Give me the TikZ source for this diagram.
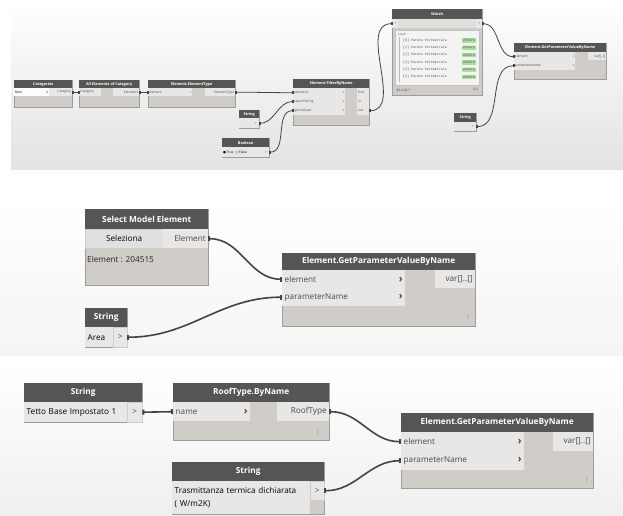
\documentclass[tikz,border=0pt]{standalone}
\usepackage{fontspec}
\setmainfont{Open Sans}
\newfontfamily\symfont{DejaVu Sans}
\newfontfamily\monofont{Liberation Mono}
\usetikzlibrary{arrows.meta}

\definecolor{hdrgray}{HTML}{555555}
\definecolor{rowgray}{HTML}{E8E7E5}
\definecolor{btngray}{HTML}{E0E0E0}
\definecolor{bodygray}{HTML}{D0CCC7}
\definecolor{edgegray}{HTML}{9C9C9C}
\definecolor{wiregray}{HTML}{444444}
\definecolor{txtgray}{HTML}{4A4A4A}
\definecolor{idgreen}{HTML}{A9DE9C}

\newcommand*{\hdrfont}{\fontsize{8.3}{10}\selectfont\bfseries}
\newcommand*{\rowfont}{\fontsize{8.2}{12.5}\selectfont}
\newcommand*{\thdrfont}{\fontsize{3.8}{4.4}\selectfont\bfseries}
\newcommand*{\trowfont}{\fontsize{3.3}{4}\selectfont}
\newcommand*{\chev}{{\fontsize{10.5}{10}\selectfont\bfseries ›}}

\begin{document}
\begin{tikzpicture}
[
	x=1pt, y=-1pt,
	box/.style={draw=edgegray, fill=bodygray, anchor=north west, inner sep=0pt, line width=0.5pt},
	hdr/.style={fill=hdrgray, text=white, anchor=north west, inner sep=0pt, font=\hdrfont},
	cell/.style={fill=rowgray, text=txtgray, anchor=north west, inner xsep=2.5pt, inner ysep=0pt, font=\rowfont},
	grip/.style={text=txtgray!60, inner sep=0pt, font=\fontsize{6}{6}\selectfont},
	wire/.style={draw=wiregray, line width=1.6pt, {Rectangle[length=2pt,width=5pt]}-{Rectangle[length=2pt,width=5pt]}},
	thdr/.style={hdr, font=\thdrfont},
	tcell/.style={cell, inner xsep=1pt, font=\trowfont},
	tgrip/.style={grip, font=\fontsize{3}{3}\selectfont},
	twire/.style={draw=wiregray, line width=0.8pt, {Rectangle[length=1pt,width=2.5pt]}-{Rectangle[length=1pt,width=2.5pt]}}
]

	\useasboundingbox (0,0) rectangle (623,516);

	% backgrounds
	\shade[top color=white, bottom color=black!11] (11,0) rectangle (623,169);
	\shade[top color=white, bottom color=black!4] (0,195) rectangle (623,355);
	\shade[top color=white, bottom color=black!6] (0,362) rectangle (623,516);

	%%%% top screenshot
	% Categories
	\node[box, minimum width=58pt, minimum height=27pt] (cat) at (14,80) {};
	\node[thdr, minimum width=58pt, minimum height=8pt] (cat-h) at (14,80) {Categories};
	\node[tcell, fill=white!90!rowgray, text=black, text width=33pt, minimum height=8pt, align=left] (cat-dd) at (14,88) {Muri\hfill v};
	\node[tcell, text width=21pt, minimum height=8pt, align=right] (cat-out) at (49,88) {Category};

	% All Elements of Category
	\node[box, minimum width=60pt, minimum height=27pt] (ae) at (79,80) {};
	\node[thdr, minimum width=60pt, minimum height=8pt] (ae-h) at (79,80) {All Elements of Category};
	\node[tcell, text width=20pt, minimum height=8pt, align=left] (ae-in) at (79,88) {Category};
	\node[tcell, text width=24pt, minimum height=8pt, align=right] (ae-out) at (113,88) {Elements};

	% Element.ElementType
	\node[box, minimum width=87pt, minimum height=27pt] (et) at (148,80) {};
	\node[thdr, minimum width=87pt, minimum height=8pt] (et-h) at (148,80) {Element.ElementType};
	\node[tcell, text width=42pt, minimum height=8pt, align=left] (et-in) at (148,88) {element\hfill\textbf{›}};
	\node[tcell, text width=28pt, minimum height=8pt, align=right] (et-out) at (205,88) {ElementType};
	\node[tgrip] (et-g) at (233,104) {I};

	% String (searchString)
	\node[box, minimum width=20pt, minimum height=18pt] (s1) at (239,110) {};
	\node[thdr, minimum width=20pt, minimum height=8pt] (s1-h) at (239,110) {String};
	\node[tcell, text width=11pt, minimum height=10pt] (s1-val) at (239,118) {};
	\node[tcell, text width=5pt, minimum height=10pt, align=center] (s1-out) at (252,118) {>};

	% Boolean
	\node[box, minimum width=47pt, minimum height=19pt] (bo) at (222,138) {};
	\node[thdr, minimum width=47pt, minimum height=9pt] (bo-h) at (222,138) {Boolean};
	\node[tcell, text=black, text width=38pt, minimum height=10pt, align=left] (bo-val) at (222,147) {{\symfont ●}\,True \ {\symfont ○}\,False};
	\node[tcell, text width=5pt, minimum height=10pt, align=center] (bo-out) at (262,147) {>};

	% Element.FilterByName
	\node[box, minimum width=76pt, minimum height=46pt] (fb) at (293,79) {};
	\node[thdr, minimum width=76pt, minimum height=9pt] (fb-h) at (293,79) {Element.FilterByName};
	\node[tcell, text width=50pt, minimum height=9pt, align=left] (fb-el) at (293,88) {elements\hfill\textbf{›}};
	\node[tcell, text width=50pt, minimum height=9pt, align=left] (fb-ss) at (293,97) {searchString\hfill\textbf{›}};
	\node[tcell, text width=50pt, minimum height=9pt, align=left] (fb-ic) at (293,106) {ignoreCase\hfill\textbf{›}};
	\node[tcell, text width=10pt, minimum height=9pt, align=left] (fb-o1) at (357,88) {first};
	\node[tcell, text width=10pt, minimum height=9pt, align=left] (fb-o2) at (357,97) {in};
	\node[tcell, text width=10pt, minimum height=9pt, align=left] (fb-o3) at (357,106) {out};
	\node[tgrip] (fb-g) at (367,121) {I};

	% Watch
	\node[box, minimum width=90pt, minimum height=86pt] (wa) at (392,9) {};
	\node[thdr, minimum width=90pt, minimum height=10pt] (wa-h) at (392,9) {Watch};
	\node[tcell, fill=rowgray!70!bodygray, minimum width=90pt, minimum height=9pt] (wa-row) at (392,19) {};
	\node[tcell, text width=4pt, minimum height=9pt, align=center] (wa-in) at (392,19) {>};
	\node[tcell, text width=4pt, minimum height=9pt, align=center] (wa-out) at (476,19) {>};
	\node[box, draw=edgegray!60, fill=rowgray!50!white, minimum width=84pt, minimum height=55pt] (wa-list) at (395,30) {};
	\draw[edgegray!70, line width=0.3pt] (399,37) -- (399,82);
	\node[anchor=west, inner sep=0pt, text=txtgray, font=\trowfont\monofont] (wa-lst) at (398,34) {List};
	\foreach \i in {0,...,5} {
		\node[anchor=west, inner sep=0pt, text=txtgray, font=\trowfont\monofont] (wa-item\i) at (403,{40.5+7.3*\i}) {[\i] Parete Perimetrale};
		\node[fill=idgreen, inner xsep=0.8pt, inner ysep=1pt, text=txtgray, font=\trowfont\monofont] (wa-id\i) at (469,{40.5+7.3*\i}) {255473};
	}
	\node[anchor=west, inner sep=0pt, text=txtgray, font=\trowfont] (wa-lv) at (396,90) {@L2 @L1};
	\node[anchor=east, inner sep=0pt, text=txtgray, font=\trowfont] (wa-cnt) at (478,90) {\{6\}};

	% Element.GetParameterValueByName (top)
	\node[box, minimum width=92pt, minimum height=36pt] (gt) at (514,43) {};
	\node[thdr, minimum width=92pt, minimum height=9pt] (gt-h) at (514,43) {Element.GetParameterValueByName};
	\node[tcell, text width=59pt, minimum height=9pt, align=left] (gt-el) at (514,52) {element\hfill\textbf{›}};
	\node[tcell, text width=59pt, minimum height=9pt, align=left] (gt-pn) at (514,61) {parameterName\hfill\textbf{›}};
	\node[tcell, text width=16pt, minimum height=8pt, align=right] (gt-out) at (588,52) {var[]..[]};
	\node[tgrip] (gt-g) at (604,76) {I};

	% String (parameterName)
	\node[box, minimum width=22pt, minimum height=18pt] (s2) at (454,113) {};
	\node[thdr, minimum width=22pt, minimum height=9pt] (s2-h) at (454,113) {String};
	\node[tcell, text width=13pt, minimum height=9pt] (s2-val) at (454,122) {};
	\node[tcell, text width=5pt, minimum height=9pt, align=center] (s2-out) at (469,122) {>};

	% top wires
	\draw[twire] (cat-out.east) -- (ae-in.west);
	\draw[twire] (ae-out.east) -- (et-in.west);
	\draw[twire] (et-out.east) to[out=0,in=180] (fb-el.west);
	\draw[twire] (s1-out.east) to[out=0,in=180] (fb-ss.west);
	\draw[twire] (bo-out.east) to[out=0,in=180] (fb-ic.west);
	\draw[twire] (fb-o3.east) to[out=0,in=180] (wa-in.west);
	\draw[twire] (wa-out.east) to[out=0,in=180] (gt-el.west);
	\draw[twire] (s2-out.east) to[out=0,in=180] (gt-pn.west);

	%%%% middle screenshot
	% Select Model Element
	\node[box, minimum width=123pt, minimum height=76pt] (sme) at (85,209) {};
	\node[hdr, minimum width=123pt, minimum height=20pt] (sme-h) at (85,209) {Select Model Element};
	\node[cell, fill=btngray, draw=edgegray!50, text=black, text width=73pt, minimum height=19pt, align=center] (sme-btn) at (85,229) {Seleziona};
	\node[cell, text width=40pt, minimum height=19pt, align=right] (sme-out) at (163,229) {Element};
	\node[anchor=west, inner sep=0pt, font=\rowfont, text=black!85] (sme-val) at (87,259) {Element : 204515};

	% Element.GetParameterValueByName
	\node[box, minimum width=193pt, minimum height=73pt] (gp1) at (282,253) {};
	\node[hdr, minimum width=193pt, minimum height=17pt] (gp1-h) at (282,253) {Element.GetParameterValueByName};
	\node[cell, text width=118pt, minimum height=18pt, align=left] (gp1-el) at (282,270) {element\hfill\chev};
	\node[cell, text width=118pt, minimum height=18pt, align=left] (gp1-pn) at (282,288) {parameterName\hfill\chev};
	\node[cell, text width=35pt, minimum height=18pt, align=right] (gp1-out) at (435,270) {var[]..[]};
	\node[grip] (gp1-g) at (468,317) {I};

	% String
	\node[box, minimum width=42pt, minimum height=39pt] (sa) at (85,308) {};
	\node[hdr, minimum width=42pt, minimum height=19pt] (sa-h) at (85,308) {String};
	\node[cell, text=black, text width=23pt, minimum height=20pt, align=left] (sa-val) at (85,327) {Area};
	\node[cell, draw=edgegray!50, text width=9pt, minimum height=20pt, align=center] (sa-out) at (113,327) {>};

	\draw[wire] (sme-out.east) to[out=0,in=180] (gp1-el.west);
	\draw[wire] (sa-out.east) to[out=0,in=180] (gp1-pn.west);

	%%%% bottom screenshot
	% String
	\node[box, minimum width=118pt, minimum height=39pt] (st) at (24,383) {};
	\node[hdr, minimum width=118pt, minimum height=19pt] (st-h) at (24,383) {String};
	\node[cell, text=black, text width=98pt, minimum height=20pt, align=left] (st-val) at (24,402) {Tetto Base Impostato 1};
	\node[cell, draw=edgegray!50, text width=10pt, minimum height=20pt, align=center] (st-out) at (127,402) {>};

	% RoofType.ByName
	\node[box, minimum width=156pt, minimum height=57pt] (rt) at (173,383) {};
	\node[hdr, minimum width=156pt, minimum height=19pt] (rt-h) at (173,383) {RoofType.ByName};
	\node[cell, text width=72pt, minimum height=19pt, align=left] (rt-in) at (173,402) {name\hfill\chev};
	\node[cell, text width=47pt, minimum height=19pt, align=right] (rt-out) at (277,402) {RoofType};
	\node[grip] (rt-g) at (318,432) {I};

	% String
	\node[box, minimum width=152pt, minimum height=52pt] (str) at (172,462) {};
	\node[hdr, minimum width=152pt, minimum height=19pt] (str-h) at (172,462) {String};
	\node[cell, text=black, text width=133pt, minimum height=33pt, align=left] (str-val) at (172,481) {Trasmittanza termica dichiarata\\( W/m2K)};
	\node[cell, draw=edgegray!50, text width=9pt, minimum height=19pt, align=center] (str-out) at (310,481) {>};

	% Element.GetParameterValueByName
	\node[box, minimum width=192pt, minimum height=75pt] (gp2) at (401,413) {};
	\node[hdr, minimum width=192pt, minimum height=19pt] (gp2-h) at (401,413) {Element.GetParameterValueByName};
	\node[cell, text width=118pt, minimum height=19pt, align=left] (gp2-el) at (401,432) {element\hfill\chev};
	\node[cell, text width=118pt, minimum height=19pt, align=left] (gp2-pn) at (401,451) {parameterName\hfill\chev};
	\node[cell, text width=35pt, minimum height=19pt, align=right] (gp2-out) at (553,432) {var[]..[]};
	\node[grip] (gp2-g) at (587,480) {I};

	\draw[wire] (st-out.east) -- (rt-in.west);
	\draw[wire] (rt-out.east) to[out=0,in=180] (gp2-el.west);
	\draw[wire] (str-out.east) to[out=0,in=180] (gp2-pn.west);

\end{tikzpicture}
\end{document}
